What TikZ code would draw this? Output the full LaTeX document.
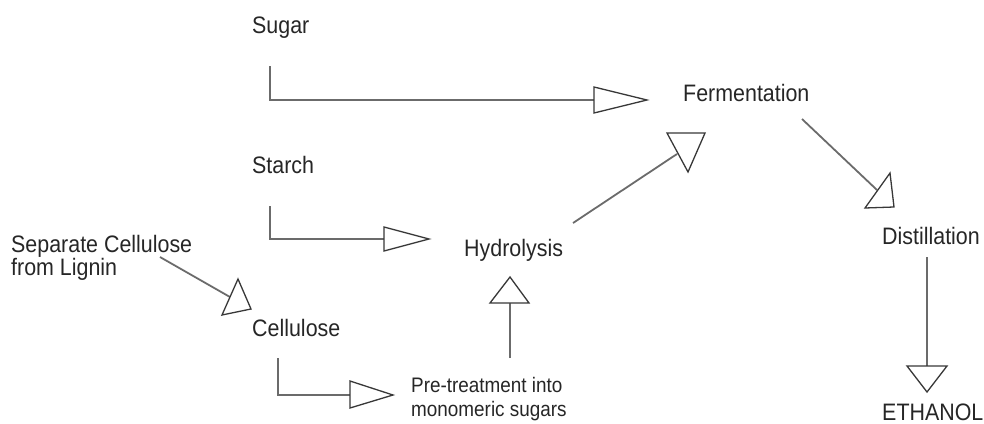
\documentclass[tikz,border=0pt]{standalone}
\usepackage{fontspec}
\setmainfont{Liberation Sans}[FakeStretch=0.9]
\begin{document}
\begin{tikzpicture}[x=1pt,y=-1pt,
  lbl/.style={inner sep=0pt, text=black!85, font=\fontsize{23.8}{23}\selectfont, anchor=base west, align=left},
  conn/.style={draw=black!58, line width=1.8pt},
  tri/.style={draw=black!78, line width=1.3pt, fill=white, line join=miter}]
\useasboundingbox (0,0) rectangle (984,423);
% text nodes
\node[lbl] (sugar) at (252,33) {Sugar};
\node[lbl] (starch) at (252,173) {Starch};
\node[lbl] (ferm) at (683,101) {Fermentation};
\node[lbl] (hydro) at (464,256) {Hydrolysis};
\node[lbl] (dist) at (882,244) {Distillation};
\node[lbl] (eth) at (882,420) {ETHANOL};
\node[lbl] (sep) at (11,275) {Separate Cellulose\\from Lignin};
\node[lbl] (cell) at (252,336) {Cellulose};
\node[lbl, font=\fontsize{21}{24}\selectfont] (pre) at (411,416) {Pre-treatment into\\monomeric sugars};
% connector points
\coordinate (sugarA) at (270,66);
\coordinate (sugarB) at (270,100);
\coordinate (sugarC) at (594,100);
\coordinate (starchA) at (270,206);
\coordinate (starchB) at (270,239);
\coordinate (starchC) at (384,239);
\coordinate (cellA) at (278,358);
\coordinate (cellB) at (278,395);
\coordinate (cellC) at (350,395);
\coordinate (sepA) at (160,257);
\coordinate (sepB) at (230,297);
\coordinate (preA) at (510,358);
\coordinate (preB) at (510,303);
\coordinate (hydA) at (573,223);
\coordinate (hydB) at (677,154);
\coordinate (ferA) at (802,119);
\coordinate (ferB) at (877,190);
\coordinate (disA) at (927,257);
\coordinate (disB) at (927,366);
% connectors
\draw[conn] (sugarA) -- (sugarB) -- (sugarC);
\draw[tri] (594,87) -- (647,100) -- (594,113) -- cycle;
\draw[conn] (starchA) -- (starchB) -- (starchC);
\draw[tri] (384,227) -- (429,239) -- (384,251) -- cycle;
\draw[conn] (cellA) -- (cellB) -- (cellC);
\draw[tri] (350,381) -- (393,395) -- (350,408) -- cycle;
\draw[conn] (sepA) -- (sepB);
\draw[tri] (238,279) -- (251,309) -- (222,315) -- cycle;
\draw[conn] (preA) -- (preB);
\draw[tri] (490,303) -- (510,277) -- (529,303) -- cycle;
\draw[conn] (hydA) -- (hydB);
\draw[tri] (667,133) -- (705,133) -- (688,172) -- cycle;
\draw[conn] (ferA) -- (ferB);
\draw[tri] (890,173) -- (894,207) -- (865,208) -- cycle;
\draw[conn] (disA) -- (disB);
\draw[tri] (907,366) -- (947,366) -- (927,392) -- cycle;
\end{tikzpicture}
\end{document}
